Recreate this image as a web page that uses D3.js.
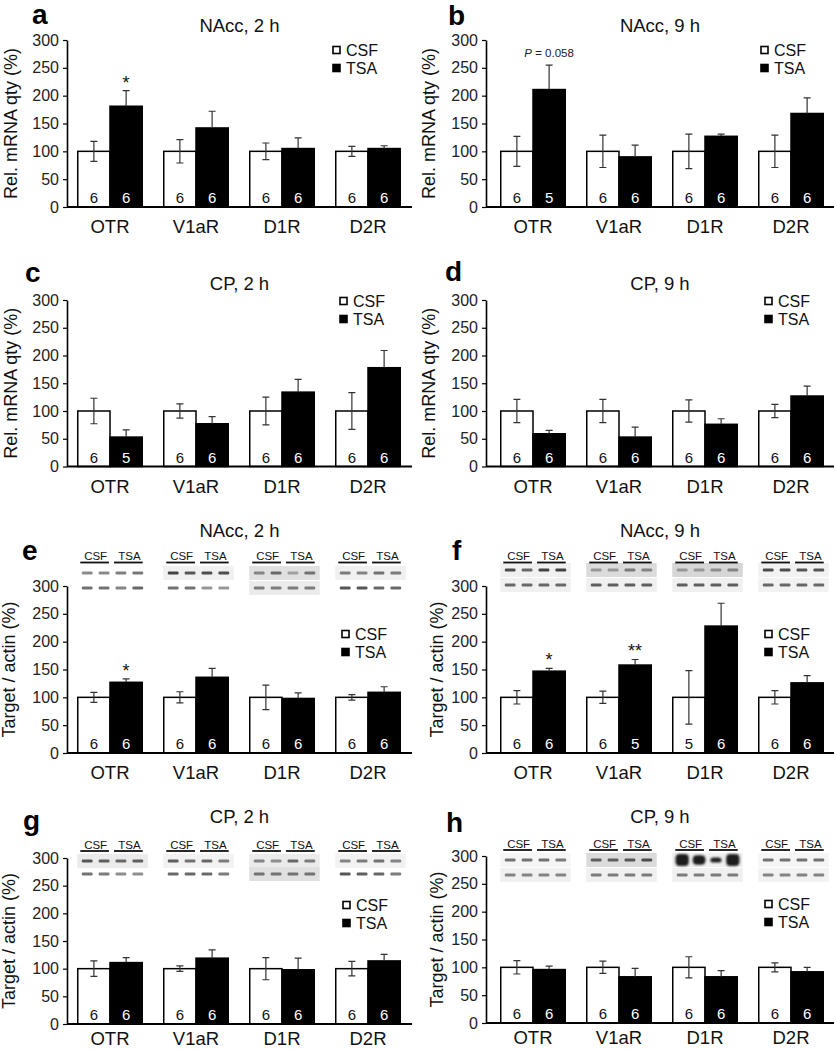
<!DOCTYPE html>
<html>
<head>
<meta charset="utf-8">
<script src="https://cdn.jsdelivr.net/npm/d3@7"></script>
<style>
  body { margin: 0; background: #fff; }
  svg { display: block; }
  text { font-family: "Liberation Sans", Arial, Helvetica, sans-serif; }
</style>
</head>
<body>
<script>
// categories and tick values
const categories = ["OTR", "V1aR", "D1R", "D2R"];
const groups = ["CSF", "TSA"];
const yTicks = [0, 50, 100, 150, 200, 250, 300];
const csfMean = [100, 100, 100, 100];

// a - NAcc 2h mRNA
const tsaA = [181, 142, 105, 105];
const csfErrA = [18, 21, 15, 9];
const tsaErrA = [28, 30, 19, 5];
const nCsfA = [6, 6, 6, 6];
const nTsaA = [6, 6, 6, 6];
const sigA = ["*", "", "", ""];

// b - NAcc 9h mRNA
const tsaB = [211, 90, 127, 168];
const csfErrB = [27, 29, 31, 29];
const tsaErrB = [44, 21, 4, 28];
const nCsfB = [6, 6, 6, 6];
const nTsaB = [5, 6, 6, 6];
const sigB = ["P = 0.058", "", "", ""];

// c - CP 2h mRNA
const tsaC = [53, 77, 134, 178];
const csfErrC = [23, 13, 25, 33];
const tsaErrC = [13, 13, 23, 31];
const nCsfC = [6, 6, 6, 6];
const nTsaC = [5, 6, 6, 6];

// d - CP 9h mRNA
const tsaD = [59, 53, 76, 127];
const csfErrD = [21, 21, 20, 12];
const tsaErrD = [6, 18, 10, 18];
const nCsfD = [6, 6, 6, 6];
const nTsaD = [6, 6, 6, 6];

// e - NAcc 2h protein
const tsaE = [127, 136, 98, 109];
const csfErrE = [9, 10, 22, 5];
const tsaErrE = [6, 16, 10, 10];
const nCsfE = [6, 6, 6, 6];
const nTsaE = [6, 6, 6, 6];
const sigE = ["*", "", "", ""];

// f - NAcc 9h protein
const tsaF = [147, 158, 228, 126];
const csfErrF = [12, 11, 48, 12];
const tsaErrF = [5, 10, 41, 13];
const nCsfF = [6, 6, 5, 6];
const nTsaF = [6, 5, 6, 6];
const sigF = ["*", "**", "", ""];

// g - CP 2h protein
const tsaG = [111, 119, 98, 114];
const csfErrG = [14, 5, 20, 13];
const tsaErrG = [9, 15, 21, 12];
const nCsfG = [6, 6, 6, 6];
const nTsaG = [6, 6, 6, 6];

// h - CP 9h protein
const tsaH = [96, 83, 83, 92];
const csfErrH = [12, 11, 19, 8];
const tsaErrH = [6, 15, 11, 8];
const nCsfH = [6, 6, 6, 6];
const nTsaH = [6, 6, 6, 6];

// western blot band intensities (4 lanes per receptor), target row / actin row / background
const blotTargetE = [[.42, .42, .48, .52], [.8, .7, .75, .75], [.45, .6, .3, .55], [.5, .45, .55, .5]];
const blotActinE = [[.55, .55, .45, .6], [.55, .55, .35, .35], [.5, .5, .5, .5], [.7, .7, .6, .6]];
const blotBgE = [[0, 0], [.06, 0], [.12, .08], [.06, 0]];
const blotTargetF = [[.75, .6, .8, .8], [.35, .35, .5, .45], [.35, .35, .4, .45], [.75, .75, .7, .7]];
const blotActinF = [[.6, .6, .6, .6], [.65, .65, .65, .65], [.65, .65, .65, .65], [.6, .6, .6, .6]];
const blotBgF = [[.06, .06], [.14, .06], [.16, .06], [.05, .05]];
const blotTargetG = [[.7, .65, .6, .65], [.65, .55, .6, .5], [.45, .4, .6, .5], [.45, .5, .55, .45]];
const blotActinG = [[.55, .5, .4, .4], [.6, .6, .6, .5], [.55, .55, .55, .55], [.7, .65, .6, .5]];
const blotBgG = [[.08, 0], [.05, 0], [.08, .12], [.05, 0]];
const blotTargetH = [[.55, .55, .55, .5], [.65, .65, .7, .75], [1.4, 1.3, 1.1, 1.4], [.55, .55, .55, .55]];
const blotActinH = [[.45, .45, .45, .45], [.5, .5, .5, .5], [.5, .5, .5, .5], [.45, .45, .45, .45]];
const blotBgH = [[.04, .06], [.14, .06], [.06, .06], [.04, .05]];

const mrnaLabel = "Rel. mRNA qty (%)";
const protLabel = "Target / actin (%)";

const panels = [
  {key: "a", col: 0, title: "NAcc, 2 h", ylab: mrnaLabel, y300: 40, y0: 207, titleY: 32, letterX: 32, letterY: 24, legX: 333, legY: 50, ylabX: 17, catPad: 13,
   tsa: tsaA, csfErr: csfErrA, tsaErr: tsaErrA, nCsf: nCsfA, nTsa: nTsaA, sig: sigA},
  {key: "b", col: 1, title: "NAcc, 9 h", ylab: mrnaLabel, y300: 40, y0: 207, titleY: 32, letterX: 448, letterY: 25, legX: 761, legY: 50, ylabX: 435, catPad: 13,
   tsa: tsaB, csfErr: csfErrB, tsaErr: tsaErrB, nCsf: nCsfB, nTsa: nTsaB, sig: sigB},
  {key: "c", col: 0, title: "CP, 2 h", ylab: mrnaLabel, y300: 300, y0: 466.5, titleY: 290, letterX: 25, letterY: 282, legX: 340, legY: 301, ylabX: 17, catPad: 13,
   tsa: tsaC, csfErr: csfErrC, tsaErr: tsaErrC, nCsf: nCsfC, nTsa: nTsaC},
  {key: "d", col: 1, title: "CP, 9 h", ylab: mrnaLabel, y300: 300, y0: 466.5, titleY: 290, letterX: 445, letterY: 281, legX: 765, legY: 301, ylabX: 435, catPad: 13,
   tsa: tsaD, csfErr: csfErrD, tsaErr: tsaErrD, nCsf: nCsfD, nTsa: nTsaD},
  {key: "e", col: 0, title: "NAcc, 2 h", ylab: protLabel, y300: 586, y0: 753, titleY: 537, letterX: 22, letterY: 560, legX: 342, legY: 634, ylabX: 15, catPad: 13,
   tsa: tsaE, csfErr: csfErrE, tsaErr: tsaErrE, nCsf: nCsfE, nTsa: nTsaE, sig: sigE,
   blot: [blotTargetE, blotActinE, blotBgE], blotY: [560, 562.5, 573, 588]},
  {key: "f", col: 1, title: "NAcc, 9 h", ylab: protLabel, y300: 586, y0: 753, titleY: 537, letterX: 452, letterY: 560, legX: 765, legY: 634, ylabX: 443, catPad: 13,
   tsa: tsaF, csfErr: csfErrF, tsaErr: tsaErrF, nCsf: nCsfF, nTsa: nTsaF, sig: sigF,
   blot: [blotTargetF, blotActinF, blotBgF], blotY: [560, 562.5, 570, 585]},
  {key: "g", col: 0, title: "CP, 2 h", ylab: protLabel, y300: 858, y0: 1024, titleY: 823, letterX: 23, letterY: 830, legX: 343, legY: 905, ylabX: 15, catPad: 8,
   tsa: tsaG, csfErr: csfErrG, tsaErr: tsaErrG, nCsf: nCsfG, nTsa: nTsaG,
   blot: [blotTargetG, blotActinG, blotBgG], blotY: [849, 851, 861, 874]},
  {key: "h", col: 1, title: "CP, 9 h", ylab: protLabel, y300: 856, y0: 1023, titleY: 823, letterX: 446, letterY: 832, legX: 765, legY: 904, ylabX: 443, catPad: 8,
   tsa: tsaH, csfErr: csfErrH, tsaErr: tsaErrH, nCsf: nCsfH, nTsa: nTsaH,
   blot: [blotTargetH, blotActinH, blotBgH], blotY: [848, 850, 860, 875]}
];

const svg = d3.select("body").append("svg")
    .attr("width", 836)
    .attr("height", 1050);
svg.append("rect").attr("width", 836).attr("height", 1050).attr("fill", "#fff");

const defs = svg.append("defs");
defs.append("filter").attr("id", "soft")
    .attr("x", "-50%").attr("y", "-150%").attr("width", "200%").attr("height", "400%")
    .append("feGaussianBlur").attr("stdDeviation", 0.7);
defs.append("filter").attr("id", "blob")
    .attr("x", "-50%").attr("y", "-50%").attr("width", "200%").attr("height", "200%")
    .append("feGaussianBlur").attr("stdDeviation", 1.3);

const bandColor = d3.scaleLinear().domain([0, 1]).range(["#d8d8d8", "#1e1e1e"]).clamp(true);
const bgColor = d3.scaleLinear().domain([0, 1]).range(["#ffffff", "#000000"]);

panels.forEach(p => {
  const g = svg.append("g").attr("id", "panel-" + p.key);
  const ax = p.col ? 486 : 67;
  const axEnd = p.col ? 834 : 412;

  const x = d3.scaleBand().domain(categories)
      .range(p.col ? [490, 834] : [67, 411])
      .paddingInner(0.25).paddingOuter(0.125);
  const xs = d3.scaleBand().domain(groups).range([0, x.bandwidth()]);
  const y = d3.scaleLinear().domain([0, 300]).range([p.y0, p.y300]);

  const rows = categories.flatMap((c, i) => [
    {c: c, g: "CSF", v: csfMean[i], e: p.csfErr[i], n: p.nCsf[i], s: ""},
    {c: c, g: "TSA", v: p.tsa[i], e: p.tsaErr[i], n: p.nTsa[i], s: p.sig ? p.sig[i] : ""}
  ]);

  // bars
  g.selectAll("rect.bar")
      .data(rows)
      .join("rect")
      .attr("class", "bar")
      .attr("x", d => x(d.c) + xs(d.g))
      .attr("y", d => y(d.v))
      .attr("width", xs.bandwidth())
      .attr("height", d => y(0) - y(d.v))
      .attr("fill", d => d.g === "CSF" ? "#fff" : "#000")
      .attr("stroke", "#000")
      .attr("stroke-width", 1.5);

  // error bars
  g.selectAll("path.err")
      .data(rows)
      .join("path")
      .attr("class", "err")
      .attr("fill", "none")
      .attr("stroke", "#333")
      .attr("stroke-width", 1.2)
      .attr("d", d => {
        const xc = x(d.c) + xs(d.g) + xs.bandwidth() / 2;
        const hi = y(d.v + d.e);
        const lo = d.g === "CSF" ? y(d.v - d.e) : y(d.v);
        let s = `M${xc},${lo}V${hi}M${xc - 3.5},${hi}H${xc + 3.5}`;
        if (d.g === "CSF") s += `M${xc - 3.5},${lo}H${xc + 3.5}`;
        return s;
      });

  // n inside bars
  g.selectAll("text.n")
      .data(rows)
      .join("text")
      .attr("class", "n")
      .attr("x", d => x(d.c) + xs(d.g) + xs.bandwidth() / 2)
      .attr("y", y(0) - 4)
      .attr("text-anchor", "middle")
      .attr("font-size", 15)
      .attr("fill", d => d.g === "CSF" ? "#111" : "#fff")
      .text(d => d.n);

  // significance marks
  rows.filter(d => d.s).forEach(d => {
    const xc = x(d.c) + xs(d.g) + xs.bandwidth() / 2;
    if (d.s.startsWith("P")) {
      const t = g.append("text")
          .attr("x", xc)
          .attr("y", y(d.v + d.e) - 8)
          .attr("text-anchor", "middle")
          .attr("font-size", 11.5)
          .attr("fill", "#222");
      t.append("tspan").attr("font-style", "italic").text("P");
      t.append("tspan").text(d.s.slice(1));
    } else {
      g.append("text")
          .attr("x", xc)
          .attr("y", y(d.v + d.e) - 2)
          .attr("text-anchor", "middle")
          .attr("font-size", 18)
          .attr("fill", "#111")
          .text(d.s);
    }
  });

  // y axis
  const yAxis = g.append("g")
      .attr("transform", `translate(${ax},0)`)
      .call(d3.axisLeft(y).tickValues(yTicks).tickSize(4).tickSizeOuter(0).tickPadding(4));
  yAxis.select(".domain").attr("stroke", "#000").attr("stroke-width", 1.6);
  yAxis.selectAll(".tick line").attr("stroke", "#000").attr("stroke-width", 1.2);
  yAxis.selectAll(".tick text").attr("font-size", 16).attr("fill", "#222");

  // x axis
  g.append("line")
      .attr("x1", ax).attr("x2", axEnd)
      .attr("y1", y(0)).attr("y2", y(0))
      .attr("stroke", "#000")
      .attr("stroke-width", 2);
  const xAxis = g.append("g")
      .attr("transform", `translate(0,${y(0)})`)
      .call(d3.axisBottom(x).tickSize(0).tickPadding(p.catPad));
  xAxis.select(".domain").remove();
  xAxis.selectAll(".tick text").attr("font-size", 18.5).attr("fill", "#111");

  // y label
  g.append("text")
      .attr("transform", `translate(${p.ylabX},${(p.y0 + p.y300) / 2}) rotate(-90)`)
      .attr("text-anchor", "middle")
      .attr("font-size", 18)
      .attr("fill", "#111")
      .text(p.ylab);

  // title + panel letter
  g.append("text")
      .attr("x", (ax + axEnd) / 2)
      .attr("y", p.titleY)
      .attr("text-anchor", "middle")
      .attr("font-size", 18.5)
      .attr("fill", "#111")
      .text(p.title);
  g.append("text")
      .attr("x", p.letterX)
      .attr("y", p.letterY)
      .attr("font-size", 28)
      .attr("font-weight", "bold")
      .attr("fill", "#000")
      .text(p.key);

  // legend
  groups.forEach((gr, k) => {
    const cy = p.legY + k * 18;
    g.append("rect")
        .attr("x", p.legX).attr("y", cy - 3.5)
        .attr("width", 7).attr("height", 7)
        .attr("fill", gr === "CSF" ? "#fff" : "#000")
        .attr("stroke", "#000")
        .attr("stroke-width", 1.6);
    g.append("text")
        .attr("x", p.legX + 13)
        .attr("y", cy)
        .attr("dy", "0.36em")
        .attr("font-size", 16)
        .attr("fill", "#111")
        .text(gr);
  });

  // western blots
  if (p.blot) {
    const [target, actin, bg] = p.blot;
    const [lblY, ulY, row1, row2] = p.blotY;
    categories.forEach((c, i) => {
      const lane = d3.scaleBand().domain(d3.range(4))
          .range([x(c) + 1, x(c) + x.bandwidth() + 4])
          .paddingInner(0.3).paddingOuter(0.15);
      const bw = lane.bandwidth();
      const bx0 = lane(0) - 4, bx1 = lane(3) + bw + 4;

      [row1, row2].forEach((ry, r) => {
        if (bg[i][r] > 0) {
          g.append("rect")
              .attr("x", bx0).attr("y", ry - 7)
              .attr("width", bx1 - bx0).attr("height", 14)
              .attr("fill", bgColor(bg[i][r]))
              .attr("filter", "url(#soft)");
        }
      });

      d3.range(4).forEach(j => {
        const t = target[i][j];
        const big = t > 1 ? (t - 1) : 0;
        const h = 3 + big * 22;
        const w = bw - 1 + big * 6;
        g.append("rect")
            .attr("x", lane(j) + bw / 2 - w / 2).attr("y", row1 - h / 2)
            .attr("width", w).attr("height", h)
            .attr("rx", big ? 4 : 1.2)
            .attr("fill", bandColor(t))
            .attr("filter", big ? "url(#blob)" : "url(#soft)");
        g.append("rect")
            .attr("x", lane(j) + 0.5).attr("y", row2 - 1.5)
            .attr("width", bw - 1).attr("height", 3)
            .attr("rx", 1.2)
            .attr("fill", bandColor(actin[i][j]))
            .attr("filter", "url(#soft)");
      });

      groups.forEach((gr, k) => {
        const l0 = lane(2 * k), l1 = lane(2 * k + 1) + bw;
        g.append("text")
            .attr("x", (l0 + l1) / 2)
            .attr("y", lblY)
            .attr("text-anchor", "middle")
            .attr("font-size", 11.5)
            .attr("fill", "#111")
            .text(gr);
        g.append("line")
            .attr("x1", l0 - 1).attr("x2", l1 - 1)
            .attr("y1", ulY).attr("y2", ulY)
            .attr("stroke", "#111")
            .attr("stroke-width", 1.8);
      });
    });
  }
});
</script>
</body>
</html>
